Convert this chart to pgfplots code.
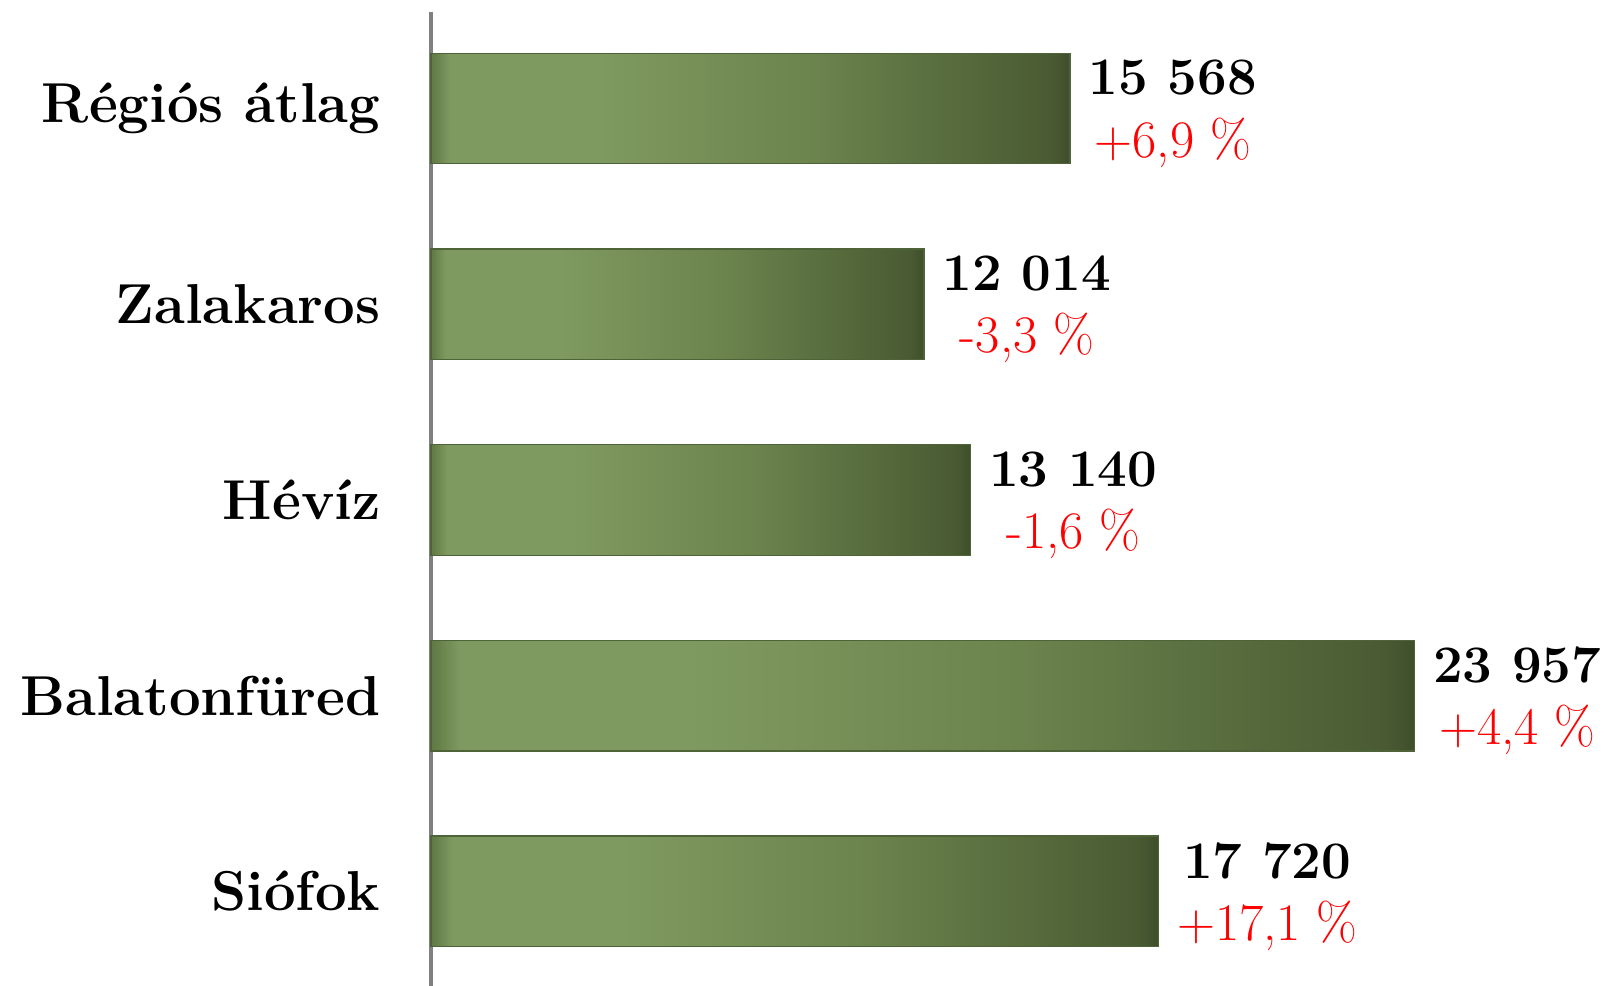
\documentclass[border=0pt]{standalone}
\usepackage{fontspec}
\usepackage{pgfplots}
\pgfplotsset{compat=1.18}
\usetikzlibrary{calc}

\definecolor{bEdgeL}{HTML}{5F7844}
\definecolor{bLight}{HTML}{7F9A61}
\definecolor{bMid}{HTML}{6B834D}
\definecolor{bMid2}{HTML}{576B3D}
\definecolor{bDark}{HTML}{4A5B33}
\definecolor{bEdgeR}{HTML}{3F4E2B}
\definecolor{bDraw}{HTML}{4F6338}
\definecolor{axgray}{HTML}{808080}

% bar bbox maps onto 25bp..75bp of the shading
\pgfdeclarehorizontalshading{barshade}{100bp}{%
  color(0bp)=(bEdgeL); color(25bp)=(bEdgeL); color(26.5bp)=(bLight);
  color(38bp)=(bLight); color(55bp)=(bMid); color(66bp)=(bMid2);
  color(73.5bp)=(bDark); color(75bp)=(bEdgeR); color(100bp)=(bEdgeR)}

\pgfplotsset{mybar/.style={xbar, bar width=1.105cm, bar shift=0pt,
    draw=bDraw, line width=0.4pt, shading=barshade}}

\begin{document}
\begin{tikzpicture}
\begin{axis}[
    scale only axis,
    width=11.74cm,
    height=9.74cm,
    xmin=0, xmax=28600,
    ymin=-0.483, ymax=4.493,
    axis x line=none,
    axis y line=left,
    y axis line style={axgray, line width=1pt, -},
    major tick length=0pt,
    ytick={0,1,2,3,4},
    yticklabels={Siófok, Balatonfüred, Hévíz, Zalakaros, Régiós átlag},
    yticklabel style={font=\fontsize{16}{20}\selectfont\bfseries,
        anchor=east, inner sep=0pt, xshift=-0.5cm},
    clip=false,
    point meta=explicit symbolic,
    nodes near coords,
    every node near coord/.append style={anchor=west, align=center,
        inner sep=0pt, xshift=0.18cm, yshift=-1.5pt, black,
        font=\fontsize{15}{17.8}\selectfont},
]
% one plot per bar so that each bar gets its own gradient
\addplot[mybar] coordinates {(17720,0) [{\textbf{17 720}\\\textcolor{red}{+17,1 \%}}]};
\addplot[mybar] coordinates {(23957,1) [{\textbf{23 957}\\\textcolor{red}{+4,4 \%}}]};
\addplot[mybar] coordinates {(13140,2) [{\textbf{13 140}\\\textcolor{red}{-1,6 \%}}]};
\addplot[mybar] coordinates {(12014,3) [{\textbf{12 014}\\\textcolor{red}{-3,3 \%}}]};
\addplot[mybar] coordinates {(15568,4) [{\textbf{15 568}\\\textcolor{red}{+6,9 \%}}]};
\end{axis}
\pgfresetboundingbox
\path[use as bounding box] ($(current axis.south west)+(-4.31cm,0)$)
    rectangle ($(current axis.north east)+(0,0.12cm)$);
\end{tikzpicture}
\end{document}
